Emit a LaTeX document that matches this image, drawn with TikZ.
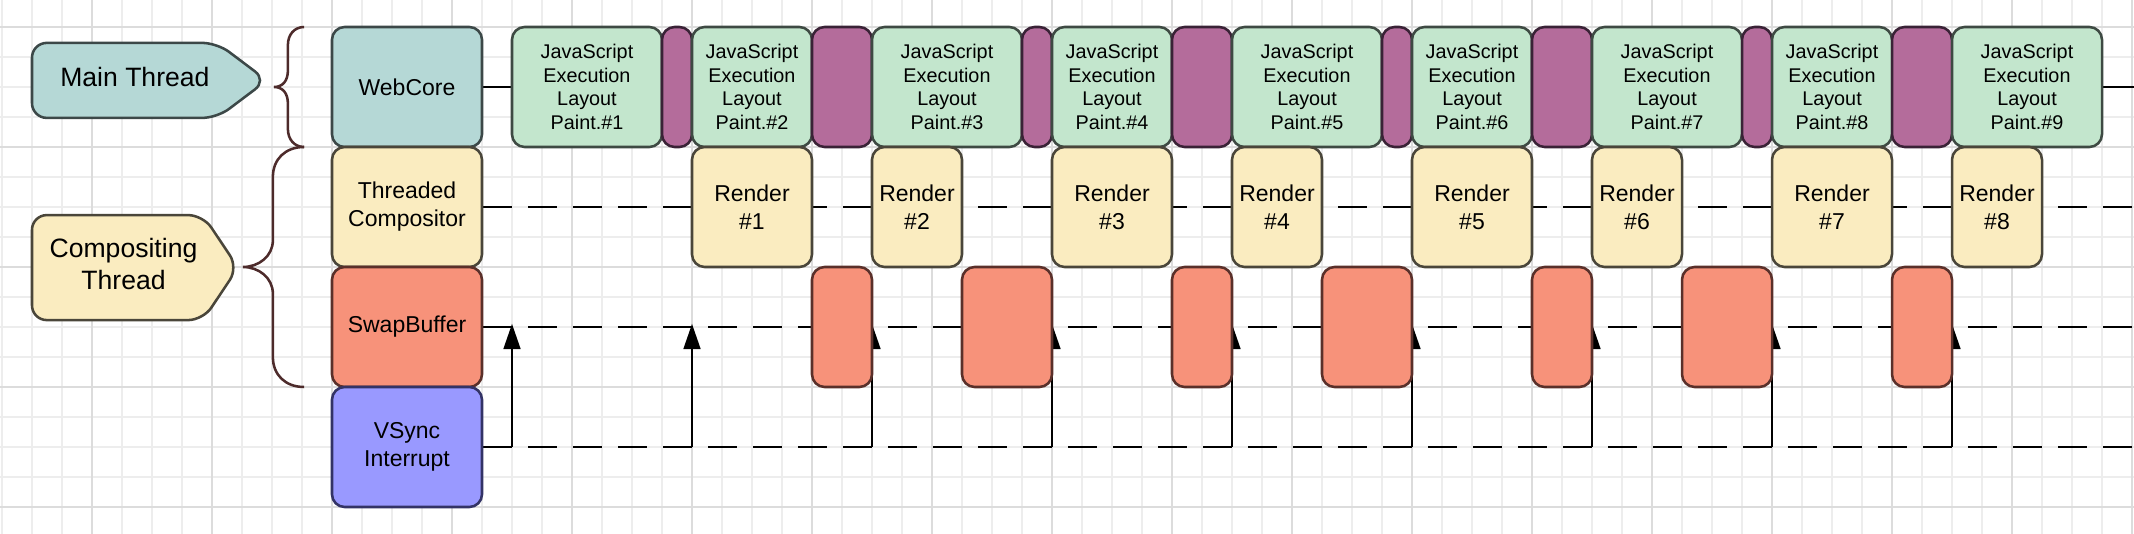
\documentclass[tikz,border=0pt]{standalone}
\usepackage{fontspec}
\setmainfont{Liberation Sans}
\usetikzlibrary{positioning,arrows.meta,backgrounds}

\definecolor{coreteal}{HTML}{B5D8D6}
\definecolor{coreline}{HTML}{3C4848}
\definecolor{jsgreen}{HTML}{C3E6CD}
\definecolor{jsline}{HTML}{3E4A43}
\definecolor{idleviolet}{HTML}{B46C9B}
\definecolor{idleline}{HTML}{3A2236}
\definecolor{compyellow}{HTML}{FAECC0}
\definecolor{compline}{HTML}{4A463A}
\definecolor{swapsalmon}{HTML}{F7927A}
\definecolor{swapline}{HTML}{5A302A}
\definecolor{vsblue}{HTML}{9999FF}
\definecolor{vsline}{HTML}{333366}
\definecolor{bracebrown}{HTML}{4D2B2B}
\definecolor{gridminor}{HTML}{EDEDED}
\definecolor{gridmajor}{HTML}{DCDCDC}

\begin{document}
\begin{tikzpicture}[x=0.5cm,y=-0.5cm]
\tikzstyle{box}=[rectangle,rounded corners=6pt,line width=1.2pt,
inner sep=1pt,outer sep=0pt,minimum height=2cm,align=center]
\tikzstyle{lane}=[box,minimum width=2.5cm,font=\fontsize{10.9}{13.3}\selectfont]
\tikzstyle{js}=[box,fill=jsgreen,draw=jsline,minimum width=2.5cm,
font=\fontsize{9.4}{11.3}\selectfont]
\tikzstyle{idle}=[box,fill=idleviolet,draw=idleline,minimum width=0.5cm]
\tikzstyle{render}=[box,fill=compyellow,draw=compline,minimum width=2cm,
font=\fontsize{10.9}{13.3}\selectfont]
\tikzstyle{swapbox}=[box,fill=swapsalmon,draw=swapline,minimum width=1cm]
\tikzstyle{wire}=[line width=1pt]
\tikzstyle{dashline}=[wire,dash pattern=on 13.75pt off 7.59pt,dash phase=13.75pt]
\tikzstyle{tick}=[wire,-{Triangle[length=12pt,width=8pt]},shorten >=-1.5pt]
\tikzstyle{tag}=[rounded corners=7pt,line width=1.2pt]
\tikzstyle{brace}=[line width=1.2pt,draw=bracebrown]

\useasboundingbox (-11.0667,-0.9) rectangle (60.0667,16.9);
\coordinate (rim) at (61,0);

% lanes
\node[lane,fill=coreteal,draw=coreline,anchor=north west] at (0,0) (web) {WebCore};
\node[lane,fill=compyellow,draw=compline,below=0pt of web] (tc) {Threaded\\Compositor};
\node[lane,fill=swapsalmon,draw=swapline,below=0pt of tc] (sw) {SwapBuffer};
\node[lane,fill=vsblue,draw=vsline,below=0pt of sw] (vs) {VSync\\Interrupt};

% thread tags and braces
\draw[tag,fill=coreteal,draw=coreline] (-10,0.53) -- (-3.83,0.53) -- (-2.17,1.78)
  -- (-3.83,3.03) -- (-10,3.03) -- cycle;
\node[font=\fontsize{12.6}{15}\selectfont] at (-6.57,1.68) (mainlbl) {Main Thread};
\draw[tag,fill=compyellow,draw=compline] (-10,6.27) -- (-4.3,6.27) -- (-3.13,8.02)
  -- (-4.3,9.77) -- (-10,9.77) -- cycle;
\node[font=\fontsize{12.6}{15}\selectfont,align=center] at (-6.95,7.9) (complbl) {Compositing\\Thread};
\draw[brace] (-0.93,0) .. controls (-1.25,0) and (-1.47,0.25) .. (-1.47,0.6)
  -- (-1.47,1.45) .. controls (-1.47,1.8) and (-1.65,2) .. (-1.93,2)
  .. controls (-1.65,2) and (-1.47,2.2) .. (-1.47,2.55)
  -- (-1.47,3.4) .. controls (-1.47,3.75) and (-1.25,4) .. (-0.93,4);
\draw[brace] (-0.93,4) .. controls (-1.55,4) and (-1.97,4.4) .. (-1.97,5)
  -- (-1.97,7.1) .. controls (-1.97,7.65) and (-2.45,8) .. (-2.97,8)
  .. controls (-2.45,8) and (-1.97,8.35) .. (-1.97,8.9)
  -- (-1.97,11) .. controls (-1.97,11.6) and (-1.55,12) .. (-0.93,12);

% main thread row
\node[js,right=0.5cm of web] (j1) {JavaScript\\Execution\\Layout\\Paint.\#1};
\node[idle,right=0pt of j1] (p1) {};
\node[js,minimum width=2cm,right=0pt of p1] (j2) {JavaScript\\Execution\\Layout\\Paint.\#2};
\node[idle,minimum width=1cm,right=0pt of j2] (p2) {};
\node[js,right=0pt of p2] (j3) {JavaScript\\Execution\\Layout\\Paint.\#3};
\node[idle,right=0pt of j3] (p3) {};
\node[js,minimum width=2cm,right=0pt of p3] (j4) {JavaScript\\Execution\\Layout\\Paint.\#4};
\node[idle,minimum width=1cm,right=0pt of j4] (p4) {};
\node[js,right=0pt of p4] (j5) {JavaScript\\Execution\\Layout\\Paint.\#5};
\node[idle,right=0pt of j5] (p5) {};
\node[js,minimum width=2cm,right=0pt of p5] (j6) {JavaScript\\Execution\\Layout\\Paint.\#6};
\node[idle,minimum width=1cm,right=0pt of j6] (p6) {};
\node[js,right=0pt of p6] (j7) {JavaScript\\Execution\\Layout\\Paint.\#7};
\node[idle,right=0pt of j7] (p7) {};
\node[js,minimum width=2cm,right=0pt of p7] (j8) {JavaScript\\Execution\\Layout\\Paint.\#8};
\node[idle,minimum width=1cm,right=0pt of j8] (p8) {};
\node[js,right=0pt of p8] (j9) {JavaScript\\Execution\\Layout\\Paint.\#9};

% compositor row
\node[render,below right=0pt of j2.south west] (r1) {Render\\\#1};
\node[render,minimum width=1.5cm,below right=0pt of j3.south west] (r2) {Render\\\#2};
\node[render,below right=0pt of j4.south west] (r3) {Render\\\#3};
\node[render,minimum width=1.5cm,below right=0pt of j5.south west] (r4) {Render\\\#4};
\node[render,below right=0pt of j6.south west] (r5) {Render\\\#5};
\node[render,minimum width=1.5cm,below right=0pt of j7.south west] (r6) {Render\\\#6};
\node[render,below right=0pt of j8.south west] (r7) {Render\\\#7};
\node[render,minimum width=1.5cm,below right=0pt of j9.south west] (r8) {Render\\\#8};

% swap row
\node[swapbox,below right=0pt of r1.south east] (s1) {};
\node[swapbox,minimum width=1.5cm,below right=0pt of r2.south east] (s2) {};
\node[swapbox,below right=0pt of r3.south east] (s3) {};
\node[swapbox,minimum width=1.5cm,below right=0pt of r4.south east] (s4) {};
\node[swapbox,below right=0pt of r5.south east] (s5) {};
\node[swapbox,minimum width=1.5cm,below right=0pt of r6.south east] (s6) {};
\node[swapbox,below right=0pt of r7.south east] (s7) {};

\begin{scope}[on background layer]
\draw[gridminor,line width=0.8pt,step=0.5cm] (-11.5,17.5) grid (61,-1);
\draw[gridmajor,line width=1pt,step=2cm] (-11.5,17.5) grid (61,-1);
\draw[wire] (web) -- (j1);
\draw[wire] (j9.east) -- (j9.east -| rim);
\draw[wire] (tc.east) -- (tc.east -| j1.west);
\draw[dashline] (tc.east -| j1.west) -- (tc.east -| rim);
\draw[wire] (sw.east) -- (sw.east -| j1.west);
\draw[dashline] (sw.east -| j1.west) -- (sw.east -| rim);
\draw[wire] (vs.east) -- (vs.east -| j1.west);
\draw[dashline] (vs.east -| j1.west) -- (vs.east -| rim);
\draw[tick] (vs.east -| j1.west) -- (sw.east -| j1.west);
\draw[tick] (vs.east -| j2.west) -- (sw.east -| j2.west);
\draw[tick] (vs.east -| j3.west) -- (sw.east -| j3.west);
\draw[tick] (vs.east -| j4.west) -- (sw.east -| j4.west);
\draw[tick] (vs.east -| j5.west) -- (sw.east -| j5.west);
\draw[tick] (vs.east -| j6.west) -- (sw.east -| j6.west);
\draw[tick] (vs.east -| j7.west) -- (sw.east -| j7.west);
\draw[tick] (vs.east -| j8.west) -- (sw.east -| j8.west);
\draw[tick] (vs.east -| j9.west) -- (sw.east -| j9.west);
\end{scope}

\end{tikzpicture}
\end{document}
